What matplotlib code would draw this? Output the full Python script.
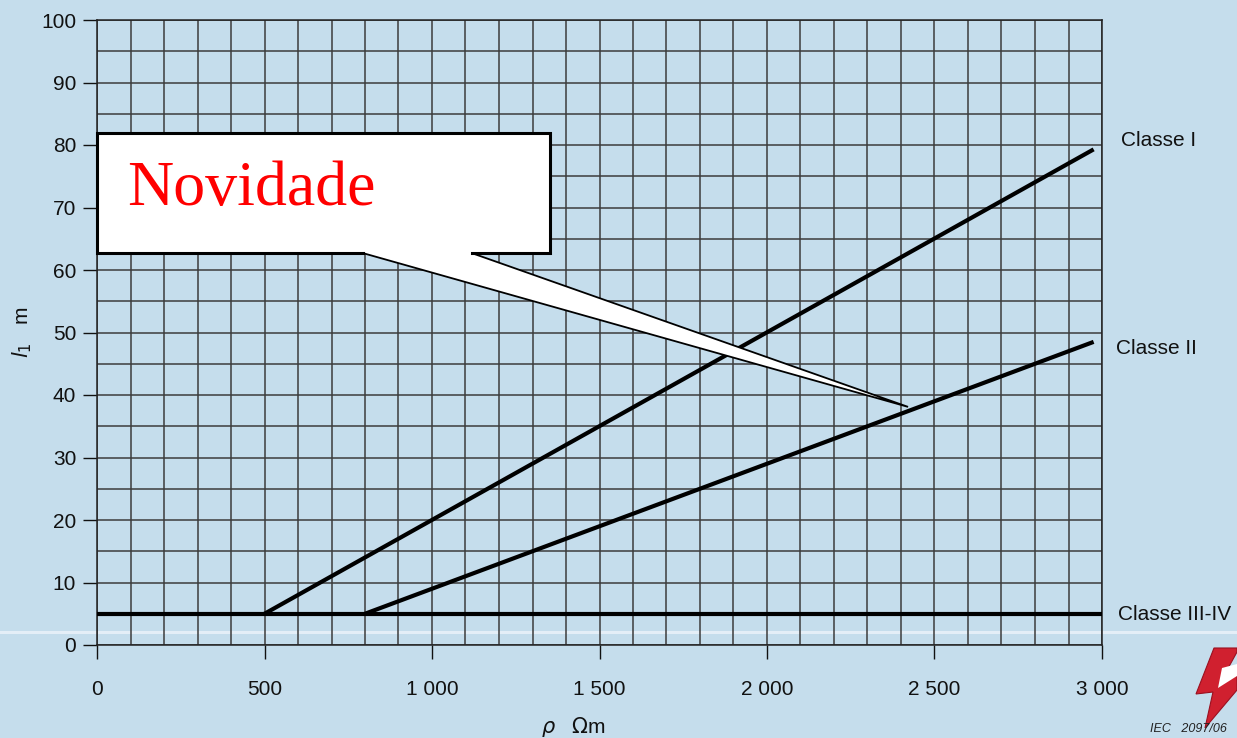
import numpy as np
import matplotlib
matplotlib.use("Agg")
import matplotlib.pyplot as plt
from matplotlib.patches import Polygon
from matplotlib.lines import Line2D

# ---- data ----
rho_I = [500, 2975]
l1_I = [5, 79.3]
rho_II = [800, 2975]
l1_II = [5, 48.5]
rho_III = [0, 3000]
l1_III = [5, 5]
class_labels = ["Classe I", "Classe II", "Classe III-IV"]
class_label_y = [80.8, 47.4, 4.8]
x_ticks = [0, 500, 1000, 1500, 2000, 2500, 3000]
x_tick_labels = ["0", "500", "1 000", "1 500", "2 000", "2 500", "3 000"]
y_ticks = [0, 10, 20, 30, 40, 50, 60, 70, 80, 90, 100]
callout_text = "Novidade"

BG = "#c5ddec"
W, H = 1237, 738
plt.rcParams['font.family'] = ['Liberation Sans', 'DejaVu Sans']

fig = plt.figure(figsize=(W / 100, H / 100), dpi=100, facecolor=BG)
# faint slide divider behind the chart
fig.add_artist(Line2D([0, 1], [1 - 632 / H, 1 - 632 / H], transform=fig.transFigure,
                      color="#e4eef7", lw=2.2, zorder=-5))

ax = fig.add_axes([97 / W, 1 - 645 / H, (1102 - 97) / W, (645 - 20) / H])
ax.set_zorder(1)
ax.set_facecolor("none")
ax.set_xlim(0, 3000)
ax.set_ylim(0, 100)

# grid
ax.set_xticks(x_ticks)
ax.set_xticklabels(x_tick_labels)
ax.set_xticks(np.arange(0, 3001, 100), minor=True)
ax.set_yticks(y_ticks)
ax.set_yticks(np.arange(0, 101, 5), minor=True)
ax.grid(which="both", color="#3c3c3c", lw=1.1, zorder=1)
ax.set_axisbelow(True)
ax.tick_params(which="minor", length=0)
ax.tick_params(axis="x", which="major", length=10, width=1, pad=15, labelsize=15, colors="#111111")
ax.tick_params(axis="y", which="major", length=10, width=1, pad=5, labelsize=15, colors="#111111")
for s in ax.spines.values():
    s.set_color("#222222")
    s.set_linewidth(1.1)

# data lines
for xs, ys in [(rho_I, l1_I), (rho_II, l1_II), (rho_III, l1_III)]:
    ax.plot(xs, ys, color="black", lw=3, solid_capstyle="butt", zorder=3, clip_on=False)

# class labels on the right
label_x = [1121, 1116, 1118]
for lab, ly, lx in zip(class_labels, class_label_y, label_x):
    ax.text((lx - 97) / 0.335, ly, lab,
            fontsize=15, va="center", ha="left", color="#111111", clip_on=False)

# axis labels
fig.text(573 / W, 1 - 727 / H, r"$\rho$   $\Omega$m", fontsize=15, ha="center", va="center",
         color="#111111")
fig.text(22 / W, 1 - 332 / H, r"$l_1$   m", fontsize=15, rotation=90, ha="center", va="center",
         color="#111111")

# callout
box_x0, box_x1 = 0, 1352
box_y0, box_y1 = 62.7, 81.9
tail_a, tail_b = 794, 1119
tip = (2421, 38.1)
poly = Polygon([(box_x0, box_y1), (box_x1, box_y1), (box_x1, box_y0), (tail_b, box_y0), tip,
                (tail_a, box_y0), (box_x0, box_y0)], closed=True, facecolor="white",
               edgecolor="black", lw=1.3, zorder=5, clip_on=False, joinstyle="miter")
ax.add_patch(poly)
ax.plot([tail_a, box_x0, box_x0, box_x1, box_x1, tail_b],
        [box_y0, box_y0, box_y1, box_y1, box_y0, box_y0],
        color="black", lw=2.2, zorder=6, clip_on=False, solid_joinstyle="miter")
ax.text(90, 70.4, callout_text, fontsize=46, family=["Liberation Serif", "DejaVu Serif"],
        color="red", ha="left", va="baseline", zorder=7)

# logo (lightning bolt) and source note
bolt_px = [(1214, 648), (1237, 648), (1237, 652), (1226, 672), (1237, 670), (1237, 690),
           (1205, 728), (1213, 692), (1196, 694)]
fig.add_artist(Polygon([(x / W, 1 - y / H) for x, y in bolt_px], closed=True,
                       transform=fig.transFigure, facecolor="#d0202f", edgecolor="#9a1020", lw=0.8))
fig.add_artist(Polygon([(x / W, 1 - y / H) for x, y in
                        [(1222, 668), (1237, 664), (1237, 676), (1218, 688)]], closed=True,
                       transform=fig.transFigure, facecolor="white", edgecolor="none"))
fig.text(1150 / W, 1 - 729 / H, "IEC   2097/06", fontsize=9, style="italic", ha="left",
         va="center", color="#222222")

fig.savefig("out.png", dpi=100, facecolor=BG)
